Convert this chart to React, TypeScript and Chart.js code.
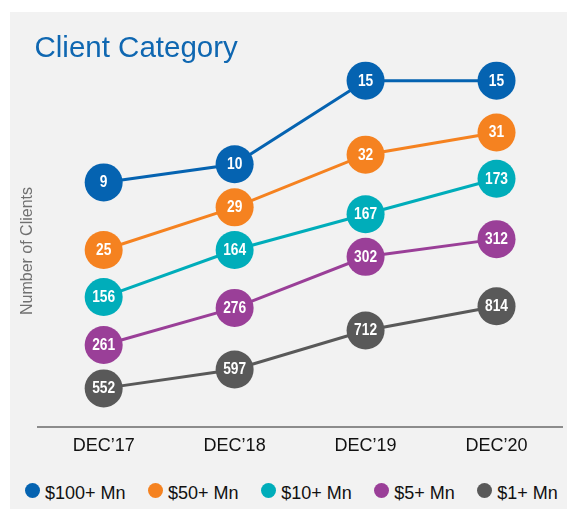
import React, { useEffect, useRef } from "react";
import { Chart, registerables } from "chart.js";

Chart.register(...registerables);

// ---- data ----
const periods = ["DEC\u201917", "DEC\u201918", "DEC\u201919", "DEC\u201920"];
const seriesNames = ["$100+ Mn", "$50+ Mn", "$10+ Mn", "$5+ Mn", "$1+ Mn"];
const seriesColors = ["#0563B1", "#F58220", "#00ADBA", "#9A3F98", "#595959"];

// number of clients per category (shown in the circles)
const clients100 = [9, 10, 15, 15];
const clients50 = [25, 29, 32, 31];
const clients10 = [156, 164, 167, 173];
const clients5 = [261, 276, 302, 312];
const clients1 = [552, 597, 712, 814];

// the reference stacks the series visually (no value axis): plotted level of each circle
const level100 = [60.8, 65.3, 86.1, 86.1];
const level50 = [44.0, 54.6, 67.7, 73.2];
const level10 = [32.3, 44.0, 52.9, 61.7];
const level5 = [20.4, 29.6, 42.3, 46.7];
const level1 = [9.6, 14.3, 24.0, 30.0];

const levelMin = 0;
const levelMax = 87.5;

const FAMILY = "'Liberation Sans', Arial, Helvetica, sans-serif";

const allCounts = [clients100, clients50, clients10, clients5, clients1];
const allLevels = [level100, level50, level10, level5, level1];

export default function App() {
  const ref = useRef<HTMLCanvasElement | null>(null);

  useEffect(() => {
    if (!ref.current) return;

    const valueLabels = {
      id: "valueLabels",
      afterDatasetsDraw(chart: any) {
        const ctx = chart.ctx;
        chart.data.datasets.forEach((ds: any, i: number) => {
          const meta = chart.getDatasetMeta(i);
          if (meta.hidden) return;
          meta.data.forEach((el: any, j: number) => {
            ctx.save();
            ctx.translate(el.x, el.y + 0.5);
            ctx.scale(0.86, 1);
            ctx.font = `bold 16px ${FAMILY}`;
            ctx.fillStyle = "#ffffff";
            ctx.textAlign = "center";
            ctx.textBaseline = "middle";
            ctx.fillText(String(ds.counts[j]), 0, 0);
            ctx.restore();
          });
        });
      },
    };

    const datasets = seriesNames.map((name, i) => ({
      label: name,
      data: allLevels[i],
      counts: allCounts[i],
      borderColor: seriesColors[i],
      backgroundColor: seriesColors[i],
      pointBackgroundColor: seriesColors[i],
      pointBorderColor: seriesColors[i],
      pointBorderWidth: 0,
      pointRadius: 19,
      pointHoverRadius: 19,
      borderWidth: 3,
      tension: 0,
      clip: false,
    }));

    const chart = new Chart(ref.current, {
      type: "line",
      data: { labels: periods, datasets: datasets as any },
      options: {
        responsive: false,
        animation: false,
        events: [],
        layout: { autoPadding: false, padding: { left: 8, right: 5, top: 63, bottom: 12.4 } },
        plugins: {
          legend: { display: false },
          title: { display: false },
          tooltip: { enabled: false },
        },
        scales: {
          x: {
            type: "category",
            offset: true,
            grid: { display: false, drawTicks: false },
            border: { display: true, color: "#8C8C8C", width: 2 },
            ticks: { padding: 8, color: "#111111", font: { size: 18, family: FAMILY } },
          },
          y: {
            min: levelMin,
            max: levelMax,
            ticks: { display: false },
            grid: { display: false, drawTicks: false },
            border: { display: false },
            title: {
              display: true,
              text: "Number of Clients",
              color: "#707070",
              font: { size: 16, family: FAMILY },
              padding: { top: 0, bottom: 1 },
            },
          },
        },
      } as any,
      plugins: [valueLabels],
    });

    return () => chart.destroy();
  }, []);

  return (
    <div
      style={{
        position: "fixed",
        left: 0,
        top: 0,
        width: 567,
        height: 509,
        background: "#ffffff",
        overflow: "hidden",
      }}
    >
      <div
        style={{
          position: "absolute",
          left: 10,
          top: 12,
          width: 557,
          height: 497,
          background: "#F2F2F2",
        }}
      >
        <canvas
          ref={ref}
          width={557}
          height={465}
          style={{ position: "absolute", left: 0, top: 0, width: 557, height: 465 }}
        />
        <div
          style={{
            position: "absolute",
            left: 24.5,
            top: 19.5,
            fontFamily: FAMILY,
            fontSize: 29.5,
            lineHeight: "29px",
            color: "#0F67B1",
            whiteSpace: "nowrap",
          }}
        >
          Client Category
        </div>
        <div
          style={{
            position: "absolute",
            left: 15,
            top: 471.8,
            display: "flex",
            alignItems: "center",
            fontFamily: FAMILY,
            fontSize: 18,
            lineHeight: "18px",
            color: "#111111",
            whiteSpace: "nowrap",
          }}
        >
          {seriesNames.map((name, i) => (
            <div
              key={name}
              style={{ display: "flex", alignItems: "center", marginRight: 22.5 }}
            >
              <span
                style={{
                  display: "inline-block",
                  width: 15,
                  height: 15,
                  borderRadius: "50%",
                  background: seriesColors[i],
                  marginRight: 5,
                  position: "relative",
                  top: -2,
                }}
              />
              <span>{name}</span>
            </div>
          ))}
        </div>
      </div>
    </div>
  );
}
